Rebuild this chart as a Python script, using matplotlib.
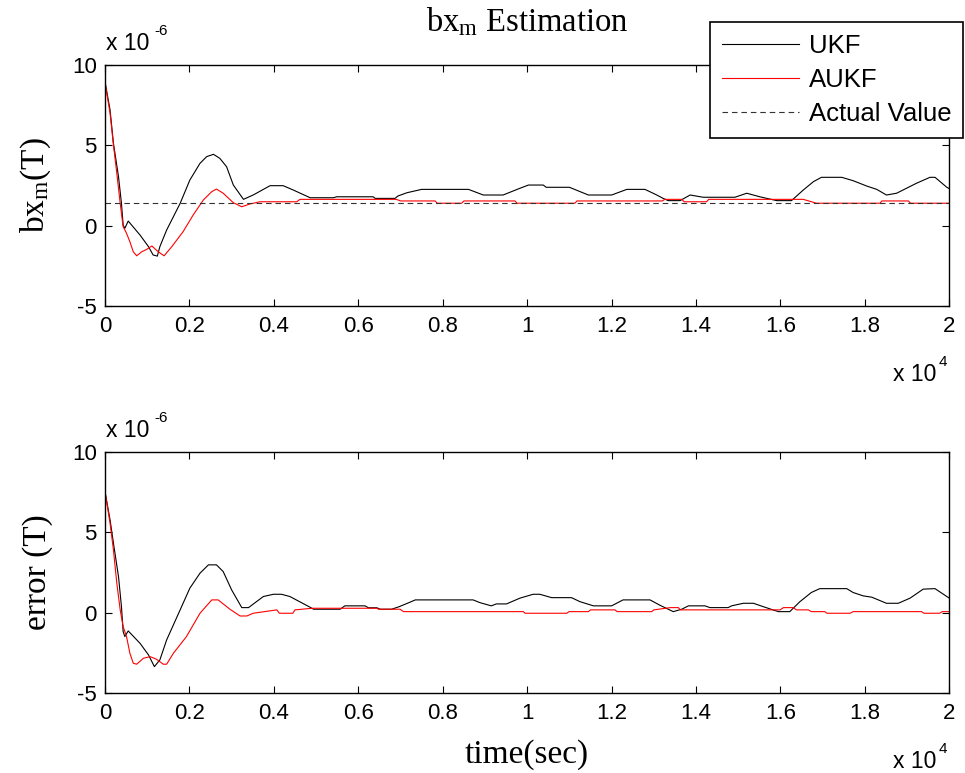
import matplotlib
matplotlib.use('Agg')
import matplotlib.pyplot as plt
from matplotlib.ticker import FuncFormatter

plt.rcParams['font.family'] = ['Liberation Sans', 'DejaVu Sans']
plt.rcParams['axes.unicode_minus'] = False
plt.rcParams['mathtext.fontset'] = 'custom'
plt.rcParams['mathtext.rm'] = 'Liberation Serif'
plt.rcParams['mathtext.sf'] = 'Liberation Sans'
plt.rcParams['mathtext.it'] = 'Liberation Serif:italic'

# time in units of 1e4 s, field in units of 1e-6 T
top_ukf_t = [0, 0.012, 0.020, 0.032, 0.039, 0.043, 0.047, 0.055, 0.083, 0.103,
             0.114, 0.124, 0.130, 0.146, 0.178, 0.201, 0.225, 0.241, 0.257, 0.272,
             0.288, 0.304, 0.328, 0.351, 0.391, 0.422, 0.446, 0.486, 0.541, 0.549,
             0.635, 0.640, 0.687, 0.694, 0.715, 0.750, 0.861, 0.896, 0.943, 0.983,
             1.003, 1.038, 1.045, 1.100, 1.145, 1.200, 1.236, 1.279, 1.307, 1.322,
             1.334, 1.362, 1.386, 1.417, 1.492, 1.520, 1.551, 1.591, 1.626, 1.654,
             1.678, 1.697, 1.745, 1.772, 1.804, 1.828, 1.851, 1.875, 1.922, 1.954,
             1.966, 1.994, 2.000]
top_ukf_v = [8.96, 7.2, 5.13, 3.05, 1.39, 0.04, -0.16, 0.29, -0.58, -1.3,
             -1.82, -1.89, -1.3, -0.27, 1.39, 2.84, 3.88, 4.3, 4.44, 4.19,
             3.67, 2.53, 1.64, 1.91, 2.49, 2.49, 2.22, 1.74, 1.74, 1.80,
             1.80, 1.70, 1.70, 1.85, 2.05, 2.26, 2.26, 1.91, 1.91, 2.33,
             2.53, 2.53, 2.39, 2.39, 1.91, 1.91, 2.26, 2.26, 1.91, 1.70,
             1.56, 1.56, 1.91, 1.77, 1.77, 2.02, 1.80, 1.56, 1.56, 2.22,
             2.74, 3.01, 3.01, 2.80, 2.47, 2.26, 1.91, 2.02, 2.64, 3.01,
             3.01, 2.39, 2.30]

top_aukf_t = [0, 0.012, 0.020, 0.028, 0.036, 0.043, 0.051, 0.059, 0.067, 0.075,
              0.087, 0.099, 0.111, 0.126, 0.140, 0.158, 0.185, 0.209, 0.233, 0.253,
              0.264, 0.280, 0.304, 0.324, 0.343, 0.367, 0.454, 0.462, 0.690, 0.700,
              0.782, 0.787, 0.845, 0.850, 0.971, 0.976, 1.113, 1.118, 1.320, 1.326,
              1.366, 1.372, 1.425, 1.430, 1.654, 1.685, 1.836, 1.840, 1.903, 1.908,
              2.000]
top_aukf_v = [8.9, 7.0, 5.02, 3.26, 1.39, -0.06, -0.47, -1.0, -1.62, -1.87,
              -1.62, -1.47, -1.26, -1.62, -1.87, -1.31, -0.37, 0.67, 1.6, 2.12,
              2.28, 2.02, 1.43, 1.18, 1.35, 1.49, 1.49, 1.64, 1.64, 1.54,
              1.54, 1.4, 1.4, 1.54, 1.54, 1.4, 1.4, 1.54, 1.54, 1.64,
              1.64, 1.49, 1.49, 1.64, 1.64, 1.4, 1.4, 1.54, 1.54, 1.4,
              1.4]

actual_value = 1.4

err_ukf_t = [0, 0.012, 0.020, 0.032, 0.039, 0.043, 0.047, 0.055, 0.083, 0.103,
             0.117, 0.130, 0.146, 0.178, 0.201, 0.225, 0.245, 0.264, 0.280, 0.300,
             0.324, 0.340, 0.375, 0.399, 0.418, 0.438, 0.486, 0.494, 0.557, 0.568,
             0.616, 0.624, 0.644, 0.652, 0.679, 0.697, 0.720, 0.735, 0.872, 0.888,
             0.915, 0.927, 0.951, 0.983, 1.014, 1.030, 1.058, 1.105, 1.125, 1.157,
             1.200, 1.227, 1.291, 1.315, 1.346, 1.366, 1.382, 1.421, 1.433, 1.476,
             1.484, 1.512, 1.536, 1.559, 1.595, 1.622, 1.646, 1.673, 1.693, 1.757,
             1.772, 1.796, 1.816, 1.851, 1.879, 1.907, 1.938, 1.966, 1.994, 2.000]
err_ukf_v = [7.53, 5.77, 4.32, 2.24, 0.37, -1.18, -1.49, -1.14, -1.91, -2.63,
             -3.36, -2.94, -1.70, 0.17, 1.52, 2.45, 2.97, 2.97, 2.55, 1.41,
             0.31, 0.31, 1.00, 1.14, 1.14, 1.00, 0.33, 0.21, 0.21, 0.42,
             0.42, 0.30, 0.30, 0.21, 0.21, 0.37, 0.62, 0.79, 0.79, 0.62,
             0.42, 0.54, 0.54, 0.90, 1.14, 1.14, 0.93, 0.93, 0.68, 0.42,
             0.42, 0.79, 0.79, 0.45, 0.06, 0.21, 0.42, 0.42, 0.31, 0.31,
             0.42, 0.58, 0.58, 0.37, 0.06, 0.06, 0.68, 1.25, 1.49, 1.49,
             1.25, 1.04, 0.96, 0.58, 0.58, 0.90, 1.46, 1.49, 1.00, 0.90]

err_aukf_t = [0, 0.012, 0.020, 0.028, 0.036, 0.043, 0.051, 0.059, 0.067, 0.075,
              0.091, 0.107, 0.122, 0.138, 0.146, 0.162, 0.193, 0.225, 0.253, 0.268,
              0.296, 0.320, 0.336, 0.351, 0.407, 0.413, 0.445, 0.450, 0.491, 0.643,
              0.648, 0.699, 0.707, 0.991, 0.995, 1.094, 1.099, 1.145, 1.150, 1.208,
              1.213, 1.295, 1.300, 1.339, 1.358, 1.363, 1.599, 1.607, 1.630, 1.638,
              1.666, 1.673, 1.705, 1.710, 1.765, 1.772, 1.934, 1.940, 1.977, 1.983,
              2.000]
err_aukf_v = [7.53, 5.56, 3.90, 1.83, 0.17, -0.87, -1.49, -2.53, -3.15, -3.21,
              -2.84, -2.74, -2.90, -3.21, -3.21, -2.53, -1.49, -0.04, 0.79, 0.79,
              0.21, -0.21, -0.21, -0.04, 0.17, -0.04, -0.04, 0.17, 0.27, 0.27,
              0.21, 0.21, 0.06, 0.06, -0.04, -0.04, 0.06, 0.06, 0.17, 0.17,
              0.06, 0.06, 0.17, 0.31, 0.31, 0.17, 0.17, 0.31, 0.31, 0.17,
              0.17, 0.06, 0.06, -0.04, -0.04, 0.06, 0.06, -0.04, -0.04, 0.06,
              0.06]

x_ticks = [0, 0.2, 0.4, 0.6, 0.8, 1.0, 1.2, 1.4, 1.6, 1.8, 2.0]
y_ticks = [-5, 0, 5, 10]

fig = plt.figure(figsize=(9.65, 7.73), dpi=100)
ax1 = fig.add_axes([0.1088, 0.604, 0.875, 0.312])
ax2 = fig.add_axes([0.1088, 0.1035, 0.875, 0.312])

serif = 'Liberation Serif'

for ax in (ax1, ax2):
    ax.set_xlim(0, 2)
    ax.set_ylim(-5, 10)
    ax.set_xticks(x_ticks)
    ax.set_yticks(y_ticks)
    ax.xaxis.set_major_formatter(FuncFormatter(lambda v, p: '%g' % v))
    ax.tick_params(direction='in', top=True, right=True, length=5, width=0.8,
                   labelsize=16)
    ax.tick_params(axis='x', pad=7)
    ax.tick_params(axis='y', pad=6)
    for s in ax.spines.values():
        s.set_linewidth(1.0)
    # MATLAB-style multipliers
    ax.text(0.001, 1.062, 'x 10', transform=ax.transAxes,
            ha='left', va='baseline', fontsize=16.5)
    ax.annotate('-6', xy=(0, 1.062), xycoords='axes fraction', xytext=(35.5, 11),
                textcoords='offset points', ha='left', va='baseline', fontsize=11)
    ax.text(0.9846, -0.311, 'x 10', transform=ax.transAxes,
            ha='right', va='baseline', fontsize=16.5)
    ax.annotate('4', xy=(0.9846, -0.311), xycoords='axes fraction', xytext=(1.5, 11),
                textcoords='offset points', ha='left', va='baseline', fontsize=11)

# Plot 1: estimate
ax1.plot(top_ukf_t, top_ukf_v, color='black', lw=0.8, label='UKF')
ax1.plot(top_aukf_t, top_aukf_v, color='red', lw=0.8, label='AUKF')
ax1.axhline(actual_value, color='#333333', lw=0.8, dashes=(5, 3.5), label='Actual Value')
ax1.set_title(r'bx$_{\mathrm{m}}$ Estimation', fontfamily=serif, fontsize=23.5, pad=24)
ax1.set_ylabel(r'bx$_{\mathrm{m}}$(T)', fontfamily=serif, fontsize=24)
ax1.yaxis.set_label_coords(-0.062, 0.5)

leg = ax1.legend(loc='upper left', bbox_to_anchor=(710 / 965, 1 - 22 / 773),
                 bbox_transform=fig.transFigure, borderaxespad=0, fontsize=18.5,
                 fancybox=False, framealpha=1, edgecolor='black',
                 handlelength=3.0, handletextpad=0.4, labelspacing=0.4,
                 borderpad=0.45)
leg.get_frame().set_linewidth(1.2)

# Plot 2: error
ax2.plot(err_ukf_t, err_ukf_v, color='black', lw=0.8)
ax2.plot(err_aukf_t, err_aukf_v, color='red', lw=0.8)
ax2.set_ylabel('error (T)', fontfamily=serif, fontsize=24)
ax2.yaxis.set_label_coords(-0.062, 0.5)
ax2.set_xlabel('time(sec)', fontfamily=serif, fontsize=24)
ax2.xaxis.set_label_coords(0.5, -0.29)
ax2.xaxis.label.set_verticalalignment('baseline')

fig.savefig('out.png', dpi=100)
